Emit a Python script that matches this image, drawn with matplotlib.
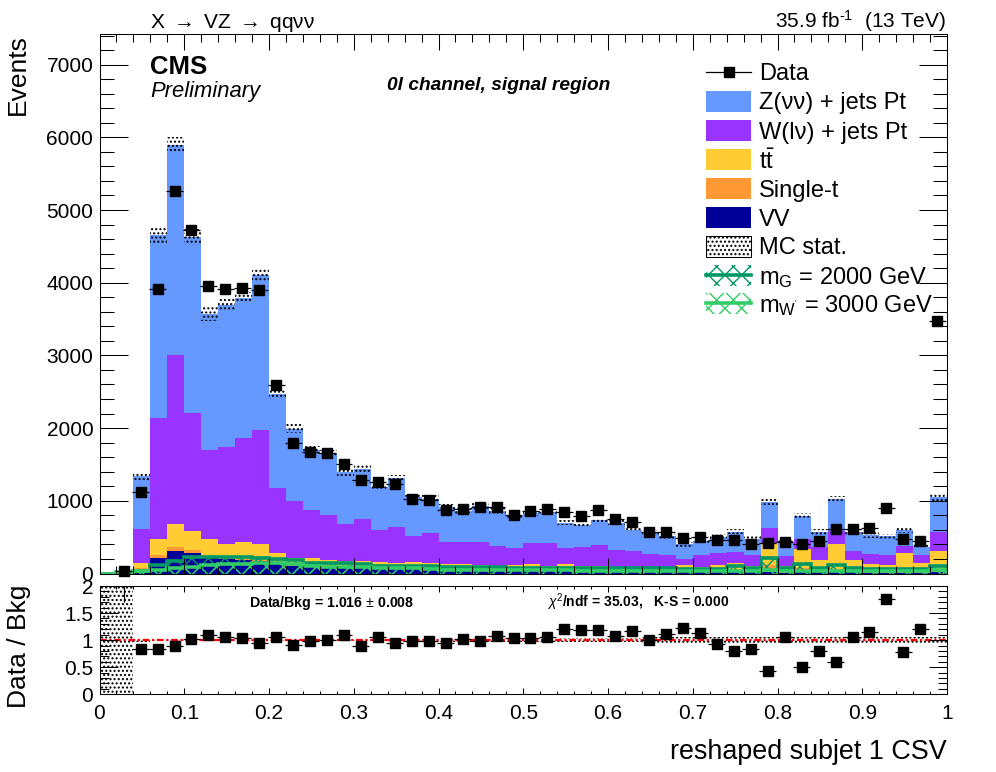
import matplotlib
matplotlib.use('Agg')
import matplotlib.pyplot as plt
import numpy as np
from matplotlib.lines import Line2D
from matplotlib.patches import Rectangle
from matplotlib.ticker import MultipleLocator, FuncFormatter

plt.rcParams['font.family'] = ['Liberation Sans', 'DejaVu Sans']
plt.rcParams['mathtext.fontset'] = 'custom'
plt.rcParams['mathtext.rm'] = 'Liberation Sans'
plt.rcParams['mathtext.it'] = 'Liberation Sans:italic'
plt.rcParams['mathtext.bf'] = 'Liberation Sans:bold'
plt.rcParams['hatch.linewidth'] = 1.0

# 50 bins of width 0.02 from 0 to 1
edges = np.linspace(0, 1, 51)
centers = 0.5 * (edges[:-1] + edges[1:])

data = [np.nan, 30, 1125, 3913, 5260, 4730, 3960, 3920, 3930, 3900,
        2590, 1795, 1674, 1657, 1506, 1286, 1259, 1231, 1026, 1011,
        873, 887, 915, 915, 805, 859, 887, 846, 791, 873,
        750, 708, 571, 571, 488, 502, 461, 461, 406, 420,
        433, 406, 447, 612, 612, 626, 901, 475, 447, 3470]

mc_total = [0, 0, 1341, 4656, 5894, 4633, 3570, 3693, 3794, 4106,
            2470, 1990, 1700, 1650, 1390, 1440, 1190, 1310, 1050, 1030,
            920, 865, 925, 860, 785, 830, 840, 700, 665, 735,
            700, 605, 570, 515, 400, 445, 505, 575, 480, 985,
            430, 790, 575, 1025, 575, 530, 510, 597, 369, 1048]

mc_err = [0, 0, 55, 115, 115, 110, 90, 85, 80, 85,
          70, 60, 55, 50, 50, 50, 45, 45, 45, 45,
          40, 40, 40, 35, 35, 35, 35, 35, 35, 35,
          35, 35, 35, 35, 35, 35, 35, 35, 35, 45,
          35, 40, 40, 45, 40, 35, 35, 40, 30, 45]

wjets_top = [0, 0, 612, 2139, 3005, 2208, 1700, 1740, 1864, 1974,
             1176, 997, 873, 805, 680, 750, 598, 640, 516, 558,
             433, 433, 433, 379, 350, 420, 420, 350, 364, 392,
             323, 309, 268, 254, 199, 254, 282, 295, 254, 625,
             240, 474, 364, 584, 309, 268, 254, 379, 254, 570]

ttbar_top = [0, 0, 144, 475, 680, 585, 475, 406, 433, 406,
             282, 213, 213, 186, 172, 172, 158, 144, 158, 144,
             131, 131, 117, 103, 117, 131, 103, 131, 103, 103,
             76, 76, 85, 76, 117, 85, 117, 144, 103, 420,
             103, 337, 186, 406, 186, 131, 117, 282, 144, 310]

singlet_top = [0, 0, 71, 254, 365, 323, 231, 215, 200, 185,
               170, 125, 100, 95, 90, 85, 80, 75, 70, 65,
               60, 55, 50, 50, 45, 45, 40, 40, 40, 40,
               35, 35, 35, 35, 30, 30, 35, 55, 35, 120,
               30, 70, 40, 60, 55, 25, 25, 60, 20, 25]

vv_top = [0, 0, 20, 213, 310, 282, 209, 199, 186, 176,
          162, 110, 85, 85, 80, 75, 70, 65, 60, 55,
          50, 45, 45, 40, 35, 35, 35, 30, 30, 30,
          30, 30, 30, 25, 25, 20, 20, 15, 15, 15,
          10, 15, 15, 15, 15, 10, 10, 10, 10, 15]

mg_line = [0, 0, 35, 117, 172, 227, 227, 227, 227, 213,
           200, 185, 150, 140, 140, 135, 105, 105, 105, 100,
           90, 85, 85, 85, 80, 75, 75, 75, 70, 70,
           70, 70, 70, 70, 65, 65, 65, 105, 70, 208,
           70, 130, 75, 117, 70, 65, 60, 65, 60, 103]

mw_line = [0, 15, 34, 50, 75, 90, 120, 135, 135, 150,
           140, 130, 105, 95, 90, 85, 70, 70, 70, 65,
           55, 50, 50, 50, 45, 45, 45, 45, 40, 40,
           40, 40, 40, 40, 35, 35, 40, 40, 40, 45,
           40, 40, 40, 40, 40, 40, 40, 35, 35, 45]

ratio = [np.nan, np.nan, 0.83, 0.83, 0.89, 1.02, 1.09, 1.06, 1.04, 0.94,
         1.06, 0.91, 0.98, 1.00, 1.09, 0.89, 1.06, 0.94, 0.98, 0.98,
         0.94, 1.02, 0.98, 1.07, 1.04, 1.04, 1.06, 1.20, 1.19, 1.19,
         1.07, 1.17, 1.00, 1.11, 1.22, 1.13, 0.93, 0.80, 0.83, 0.43,
         1.06, 0.50, 0.80, 0.59, 1.06, 1.15, 1.76, 0.78, 1.20, np.nan]

ratio_err = [1, 1, 0.03, 0.015, 0.015, 0.015, 0.015, 0.015, 0.015, 0.015,
             0.02, 0.02, 0.02, 0.02, 0.02, 0.02, 0.02, 0.02, 0.025, 0.025,
             0.03, 0.03, 0.03, 0.03, 0.03, 0.03, 0.03, 0.04, 0.04, 0.04,
             0.04, 0.04, 0.05, 0.05, 0.05, 0.05, 0.05, 0.05, 0.05, 0.05,
             0.05, 0.05, 0.05, 0.05, 0.05, 0.05, 0.05, 0.05, 0.05, 0.05]

c_z = '#6699ff'
c_w = '#9933ff'
c_tt = '#ffcc33'
c_st = '#ff9933'
c_vv = '#000099'
c_mg = '#009966'
c_mw = '#33cc66'

W, H = 996, 772


def fx(x):
    return x / W


def fy(y):
    return 1 - y / H


fig = plt.figure(figsize=(W / 100, H / 100), dpi=100)
ax = fig.add_axes([fx(99.5), fy(573.5), fx(847.5), (573.5 - 34) / H])
rax = fig.add_axes([fx(99.5), fy(694.3), fx(847.5), (694.3 - 586) / H])

# stack, drawn top down
ax.stairs(mc_total, edges, fill=True, color=c_z, lw=0)
ax.stairs(wjets_top, edges, fill=True, color=c_w, lw=0)
ax.stairs(ttbar_top, edges, fill=True, color=c_tt, lw=0)
ax.stairs(singlet_top, edges, fill=True, color=c_st, lw=0)
ax.stairs(vv_top, edges, fill=True, color=c_vv, lw=0)

total = np.array(mc_total, dtype=float)
err = np.array(mc_err, dtype=float)
ax.stairs(total + err, edges, baseline=total - err, fill=True, facecolor='none',
          edgecolor='black', hatch='....', lw=0)

# signals
for vals, col in [(mg_line, c_mg), (mw_line, c_mw)]:
    ax.stairs(vals, edges, fill=True, facecolor='none', edgecolor=col, hatch='xx', lw=0)
    ax.stairs(vals, edges, color=col, lw=2.6)

ax.errorbar(centers - 0.0015, data, xerr=0.01, yerr=np.sqrt(data), fmt='s', color='black',
            ms=7.2, elinewidth=0.9, capsize=0, clip_on=False, zorder=5)

ax.set_xlim(0, 1)
ax.set_ylim(0, 7421)
ax.xaxis.set_major_locator(MultipleLocator(0.1))
ax.xaxis.set_minor_locator(MultipleLocator(0.02))
ax.yaxis.set_major_locator(MultipleLocator(1000))
ax.yaxis.set_minor_locator(MultipleLocator(200))
ax.tick_params(axis='x', which='major', direction='in', top=True, length=11.5, width=0.75, labelbottom=False)
ax.tick_params(axis='x', which='minor', direction='in', top=True, length=5.8, width=0.75)
ax.tick_params(axis='y', which='major', direction='in', right=True, length=20, width=0.75, labelsize=15, pad=4.5)
ax.tick_params(axis='y', which='minor', direction='in', right=True, length=10, width=0.75)
ax.set_axisbelow(False)
ax.set_ylabel('Events', fontsize=19, loc='top')
ax.yaxis.set_label_coords((29.5 - 99.5) / 847.5, 1.0)

# ratio panel
r_err = np.array(ratio_err)
rax.stairs(1 + r_err, edges, baseline=1 - r_err, fill=True, facecolor='none',
           edgecolor='black', hatch='....', lw=0)
rax.axhline(1, color='red', lw=1.6, ls=(0, (3, 1.2, 1, 1.2)))
rax.errorbar(centers - 0.0015, ratio, xerr=0.01, fmt='s', color='black', ms=7.2,
             elinewidth=0.9, capsize=0, zorder=5)
rax.vlines(centers[1] - 0.0015, 1.7, 2, color='black', lw=0.9)

rax.set_xlim(0, 1)
rax.set_ylim(0, 2)
rax.xaxis.set_major_locator(MultipleLocator(0.1))
rax.xaxis.set_minor_locator(MultipleLocator(0.02))
rax.yaxis.set_major_locator(MultipleLocator(0.5))
rax.yaxis.set_minor_locator(MultipleLocator(0.1))
rax.xaxis.set_major_formatter(FuncFormatter(lambda v, p: f'{v:g}'))
rax.yaxis.set_major_formatter(FuncFormatter(lambda v, p: f'{v:g}'))
rax.tick_params(axis='x', which='major', direction='in', top=True, length=4.5, width=0.75, labelsize=15, pad=7)
rax.tick_params(axis='x', which='minor', direction='in', top=True, length=2.2, width=0.75)
rax.tick_params(axis='y', which='major', direction='in', right=True, length=13, width=0.75, labelsize=15, pad=4.5)
rax.tick_params(axis='y', which='minor', direction='in', right=True, length=6.5, width=0.75)
rax.set_axisbelow(False)
rax.set_ylabel('Data / Bkg', fontsize=19, loc='center')
rax.yaxis.set_label_coords((31 - 99.5) / 847.5, 0.44)
rax.set_xlabel('reshaped subjet 1 CSV', fontsize=19.4, loc='right')
rax.xaxis.set_label_coords(1.0, -(739 - 694.3) / 108.3)

for a in (ax, rax):
    for s in a.spines.values():
        s.set_linewidth(0.75)

# header and annotations
fig.text(fx(150), fy(28), 'X $\\rightarrow$ VZ $\\rightarrow$ qq\u03bd\u03bd', fontsize=15)
fig.text(fx(946), fy(28), r'35.9 fb$^{\text{-1}}$  (13 TeV)', fontsize=15, ha='right')
fig.text(fx(150), fy(74.5), 'CMS', fontsize=18.5, fontweight='bold')
fig.text(fx(150), fy(96.5), 'Preliminary', fontsize=15.8, style='italic')
fig.text(fx(387), fy(90), '0l channel, signal region', fontsize=13.8, fontweight='bold', style='italic')
fig.text(fx(249), fy(607), 'Data/Bkg = 1.016 $\\pm$ 0.008', fontsize=10.2, fontweight='bold')
fig.text(fx(547), fy(607), r'$\chi^{2}$/ndf = 35.03,   K-S = 0.000', fontsize=10, fontweight='bold')

# legend, placed row by row
leg_x0, leg_x1, leg_text = 706, 751, 759
rows = [(72, 'Data'), (101, 'Z(\u03bd\u03bd) + jets Pt'), (130, 'W(l\u03bd) + jets Pt'),
        (159, r'$\mathrm{t\bar{t}}$'), (188, 'Single-t'), (217, 'VV'), (246, 'MC stat.'),
        (275, r'$\mathrm{m_{G}}$ = 2000 GeV'), (303, r"$\mathrm{m_{W^{'}}}$ = 3000 GeV")]
for y, lab in rows:
    fig.text(fx(leg_text), fy(y), lab, fontsize=17, va='center_baseline')

fig.add_artist(Line2D([fx(leg_x0), fx(leg_x1)], [fy(72), fy(72)], color='black', lw=0.9,
                      transform=fig.transFigure))
fig.add_artist(Line2D([fx(0.5 * (leg_x0 + leg_x1))], [fy(72)], color='black', marker='s', ms=7.2,
                      transform=fig.transFigure))
for y, col in [(101, c_z), (130, c_w), (159, c_tt), (188, c_st), (217, c_vv)]:
    fig.add_artist(Rectangle((fx(leg_x0), fy(y + 10.5)), fx(leg_x1 - leg_x0), 21 / H, facecolor=col,
                             lw=0, transform=fig.transFigure))
fig.add_artist(Rectangle((fx(leg_x0), fy(256.5)), fx(leg_x1 - leg_x0), 21 / H, facecolor='white',
                         edgecolor='black', hatch='....', lw=0.75, transform=fig.transFigure))
for y, col in [(275, c_mg), (303, c_mw)]:
    fig.add_artist(Rectangle((fx(leg_x0), fy(y + 10.5)), fx(leg_x1 - leg_x0), 21 / H, facecolor='none',
                             edgecolor=col, hatch='xx', lw=0, transform=fig.transFigure))
    fig.add_artist(Line2D([fx(leg_x0), fx(leg_x1)], [fy(y), fy(y)], color=col, lw=2.6,
                          transform=fig.transFigure))

fig.savefig('out.png', dpi=100)
plt.close()
